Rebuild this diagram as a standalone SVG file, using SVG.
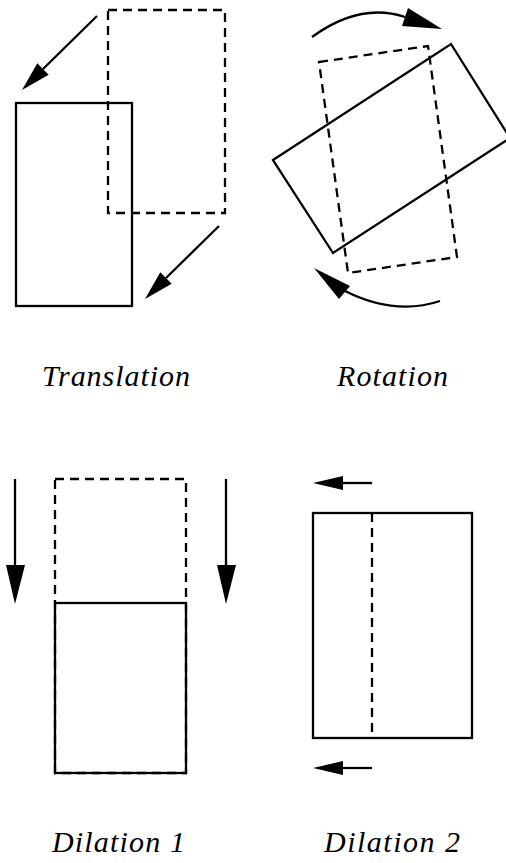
<svg xmlns="http://www.w3.org/2000/svg" width="506" height="863" viewBox="0 0 506 863">
<style>
.solid{fill:none;stroke:#000;stroke-width:2.3}
.dash{fill:none;stroke:#000;stroke-width:2.3;stroke-dasharray:9 6}
.line{fill:none;stroke:#000;stroke-width:2.3}
.head{fill:#000;stroke:none}
</style>
<rect width="506" height="863" fill="#fff"/>
<g id="translation">
<rect class="dash" x="108" y="10" width="117" height="203"/>
<rect class="solid" x="16" y="103" width="116" height="203"/>
</g>
<g id="rotation">
<polygon class="dash" points="319,62 428,46 457,257 348,273"/>
<polygon class="solid" points="273,160 451,44 510,138 333,253"/>
</g>
<g id="dilation1">
<rect class="dash" x="55" y="479" width="131" height="294"/>
<rect class="solid" x="55" y="603" width="131" height="170"/>
</g>
<g id="dilation2">
<rect class="solid" x="313" y="513" width="159" height="225"/>
<line class="dash" x1="372" y1="513" x2="372" y2="738"/>
</g>
<g id="connectors">
<line class="line" x1="97" y1="16" x2="43" y2="69"/>
<polygon class="head" points="22,90 37.3,63.3 48.7,74.7"/>
<line class="line" x1="219" y1="226" x2="166" y2="278"/>
<polygon class="head" points="145,299 160.3,272.3 171.7,283.7"/>
<path class="line" d="M312,37 Q360,2 405,17"/>
<polygon class="head" points="442,29 408,8 402,26"/>
<path class="line" d="M440,301 Q395,316 345,291"/>
<polygon class="head" points="314,268 350,286 339,299"/>
<line class="line" x1="15" y1="479" x2="15" y2="566"/>
<polygon class="head" points="15,604 6,565 25,565"/>
<line class="line" x1="226" y1="479" x2="226" y2="566"/>
<polygon class="head" points="226,604 217,565 236,565"/>
<line class="line" x1="372" y1="483" x2="342" y2="483"/>
<polygon class="head" points="313,483 343,476 343,490"/>
<line class="line" x1="372" y1="768" x2="342" y2="768"/>
<polygon class="head" points="313,768 343,761 343,775"/>
</g>
<g id="labels" font-family="Liberation Serif" font-size="30" font-style="italic" fill="#000">
<text x="42" y="386" textLength="148" lengthAdjust="spacing">Translation</text>
<text x="337" y="386" textLength="111" lengthAdjust="spacing">Rotation</text>
<text x="52" y="852" textLength="133" lengthAdjust="spacing">Dilation 1</text>
<text x="324" y="852" textLength="136" lengthAdjust="spacing">Dilation 2</text>
</g>
</svg>
